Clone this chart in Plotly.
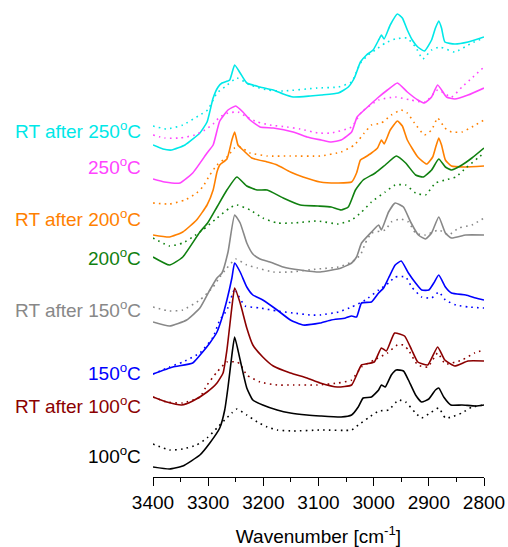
import plotly.graph_objects as go

# ---------------- data (arbitrary absorbance units, stacked) ----------------
labels = ["RT after 250<sup>o</sup>C", "250<sup>o</sup>C", "RT after 200<sup>o</sup>C", "200<sup>o</sup>C",
          "RT after 150<sup>o</sup>C", "150<sup>o</sup>C", "RT after 100<sup>o</sup>C", "100<sup>o</sup>C"]

rt250_wn = [3400, 3382, 3366, 3342, 3315, 3302, 3291, 3282, 3275, 3261, 3252, 3242, 3230, 3206, 3182, 3164, 3146, 3115, 3095, 3064, 3046, 3035, 3024, 3013, 3001, 2990, 2986, 2981, 2970, 2957, 2948, 2939, 2930, 2920, 2908, 2895, 2888, 2882, 2877, 2871, 2853, 2829, 2800]
rt250_a = [3.32, 3.28, 3.27, 3.32, 3.44, 3.55, 3.79, 3.90, 3.94, 3.97, 4.12, 4.04, 3.94, 3.90, 3.87, 3.83, 3.80, 3.81, 3.82, 3.84, 3.90, 3.99, 4.15, 4.22, 4.27, 4.38, 4.42, 4.38, 4.52, 4.63, 4.59, 4.47, 4.37, 4.30, 4.26, 4.37, 4.49, 4.56, 4.49, 4.35, 4.33, 4.35, 4.40]
rt250d_wn = [3400, 3375, 3346, 3315, 3301, 3284, 3270, 3248, 3224, 3193, 3164, 3102, 3064, 3040, 3024, 3010, 2997, 2979, 2961, 2940, 2924, 2911, 2895, 2880, 2853, 2822, 2800]
rt250d_a = [3.51, 3.48, 3.52, 3.62, 3.67, 3.84, 3.90, 3.99, 3.92, 3.87, 3.86, 3.89, 3.90, 3.95, 4.14, 4.22, 4.27, 4.34, 4.38, 4.39, 4.30, 4.18, 4.27, 4.30, 4.25, 4.34, 4.39]

t250_wn = [3400, 3379, 3351, 3328, 3302, 3291, 3279, 3264, 3250, 3237, 3224, 3206, 3182, 3146, 3121, 3095, 3077, 3059, 3040, 3030, 3011, 2993, 2975, 2957, 2939, 2920, 2908, 2895, 2884, 2868, 2853, 2829, 2800]
t250_a = [2.98, 2.95, 2.94, 3.04, 3.24, 3.32, 3.56, 3.67, 3.71, 3.65, 3.57, 3.50, 3.49, 3.45, 3.40, 3.37, 3.35, 3.37, 3.45, 3.60, 3.70, 3.79, 3.87, 3.94, 3.85, 3.77, 3.74, 3.80, 3.92, 3.80, 3.78, 3.82, 3.89]
t250d_wn = [3400, 3379, 3351, 3324, 3306, 3291, 3279, 3264, 3246, 3230, 3211, 3188, 3157, 3133, 3101, 3077, 3040, 3022, 2991, 2961, 2933, 2906, 2884, 2859, 2840, 2822, 2800]
t250d_a = [3.42, 3.39, 3.39, 3.42, 3.47, 3.53, 3.60, 3.64, 3.65, 3.60, 3.55, 3.52, 3.50, 3.48, 3.44, 3.44, 3.50, 3.65, 3.77, 3.80, 3.77, 3.75, 3.87, 3.80, 3.90, 3.99, 4.10]

rt200_wn = [3400, 3370, 3346, 3321, 3302, 3291, 3284, 3279, 3266, 3257, 3252, 3246, 3237, 3221, 3193, 3175, 3151, 3128, 3097, 3064, 3040, 3031, 3024, 3015, 3004, 2993, 2986, 2981, 2970, 2957, 2948, 2939, 2920, 2904, 2893, 2888, 2882, 2877, 2870, 2859, 2835, 2800]
rt200_a = [2.42, 2.40, 2.45, 2.57, 2.72, 2.87, 3.05, 3.12, 3.18, 3.37, 3.45, 3.32, 3.27, 3.19, 3.15, 3.12, 3.05, 3.00, 2.95, 2.94, 2.95, 3.04, 3.17, 3.20, 3.24, 3.29, 3.37, 3.33, 3.47, 3.56, 3.51, 3.37, 3.20, 3.13, 3.20, 3.29, 3.39, 3.32, 3.17, 3.11, 3.10, 3.11]
rt200d_wn = [3400, 3370, 3342, 3321, 3310, 3297, 3284, 3266, 3252, 3242, 3224, 3193, 3151, 3097, 3059, 3035, 3017, 3004, 2986, 2968, 2950, 2939, 2926, 2908, 2895, 2884, 2871, 2859, 2840, 2822, 2800]
rt200d_a = [2.74, 2.73, 2.77, 2.84, 2.90, 3.02, 3.12, 3.20, 3.29, 3.30, 3.24, 3.21, 3.21, 3.21, 3.25, 3.32, 3.44, 3.52, 3.54, 3.62, 3.67, 3.64, 3.54, 3.42, 3.47, 3.59, 3.49, 3.45, 3.45, 3.50, 3.57]

t200_wn = [3400, 3370, 3346, 3315, 3301, 3284, 3266, 3248, 3230, 3211, 3193, 3164, 3133, 3101, 3077, 3059, 3046, 3033, 3019, 2997, 2979, 2959, 2942, 2924, 2910, 2895, 2882, 2870, 2859, 2840, 2822, 2800]
t200_a = [2.20, 2.12, 2.20, 2.45, 2.54, 2.70, 2.87, 3.00, 2.91, 2.87, 2.87, 2.79, 2.72, 2.71, 2.70, 2.67, 2.70, 2.87, 2.97, 3.04, 3.12, 3.21, 3.14, 3.02, 3.00, 3.07, 3.18, 3.10, 3.07, 3.12, 3.19, 3.29]
t200d_wn = [3400, 3370, 3346, 3328, 3310, 3284, 3261, 3248, 3224, 3201, 3175, 3146, 3101, 3064, 3040, 3022, 3004, 2979, 2961, 2942, 2924, 2906, 2888, 2870, 2851, 2833, 2809, 2800]
t200d_a = [2.39, 2.31, 2.34, 2.40, 2.47, 2.59, 2.69, 2.72, 2.67, 2.59, 2.54, 2.54, 2.56, 2.53, 2.57, 2.65, 2.75, 2.85, 2.92, 2.92, 2.84, 2.82, 2.94, 2.97, 3.00, 3.09, 3.20, 3.24]

rt150_wn = [3400, 3370, 3339, 3315, 3297, 3284, 3275, 3264, 3252, 3242, 3230, 3219, 3206, 3188, 3164, 3133, 3097, 3059, 3040, 3031, 3022, 3004, 2991, 2986, 2973, 2961, 2946, 2933, 2919, 2906, 2895, 2882, 2870, 2859, 2833, 2800]
rt150_a = [1.55, 1.51, 1.57, 1.69, 1.87, 1.99, 2.04, 2.25, 2.62, 2.54, 2.34, 2.23, 2.18, 2.15, 2.10, 2.07, 2.05, 2.09, 2.14, 2.20, 2.34, 2.45, 2.52, 2.47, 2.65, 2.74, 2.70, 2.55, 2.42, 2.38, 2.44, 2.60, 2.44, 2.39, 2.42, 2.42]
rt150d_wn = [3400, 3370, 3346, 3315, 3291, 3279, 3266, 3250, 3230, 3211, 3182, 3151, 3102, 3064, 3040, 3024, 3015, 3004, 2979, 2968, 2951, 2937, 2924, 2906, 2882, 2864, 2846, 2822, 2800]
rt150d_a = [1.70, 1.66, 1.67, 1.77, 1.90, 2.00, 2.09, 2.18, 2.12, 2.09, 2.05, 2.05, 2.08, 2.10, 2.15, 2.22, 2.34, 2.44, 2.47, 2.55, 2.58, 2.55, 2.44, 2.42, 2.47, 2.42, 2.49, 2.52, 2.59]

t150_wn = [3400, 3364, 3328, 3310, 3297, 3284, 3275, 3266, 3257, 3252, 3242, 3230, 3219, 3201, 3175, 3151, 3128, 3097, 3077, 3051, 3040, 3031, 3022, 3004, 2991, 2982, 2973, 2961, 2950, 2937, 2924, 2913, 2900, 2891, 2882, 2870, 2859, 2833, 2815, 2800]
t150_a = [1.03, 1.10, 1.14, 1.25, 1.34, 1.45, 1.59, 1.77, 1.99, 2.14, 2.05, 1.90, 1.82, 1.77, 1.67, 1.57, 1.52, 1.54, 1.57, 1.59, 1.61, 1.60, 1.74, 1.75, 1.84, 1.89, 1.99, 2.12, 2.16, 2.04, 1.94, 1.87, 1.87, 1.94, 2.02, 1.90, 1.84, 1.82, 1.79, 1.77]
t150d_wn = [3400, 3370, 3346, 3315, 3291, 3279, 3266, 3252, 3246, 3233, 3206, 3175, 3146, 3115, 3097, 3064, 3040, 3015, 2991, 2973, 2961, 2942, 2931, 2913, 2895, 2882, 2870, 2851, 2828, 2800]
t150d_a = [1.03, 1.10, 1.15, 1.24, 1.40, 1.57, 1.67, 1.88, 1.82, 1.71, 1.69, 1.66, 1.64, 1.62, 1.62, 1.65, 1.70, 1.77, 1.87, 1.94, 2.00, 2.00, 1.90, 1.80, 1.79, 1.85, 1.77, 1.72, 1.70, 1.69]

rt100_wn = [3400, 3375, 3348, 3328, 3302, 3284, 3273, 3266, 3257, 3252, 3242, 3230, 3219, 3201, 3182, 3151, 3121, 3097, 3066, 3040, 3022, 2999, 2986, 2977, 2962, 2944, 2931, 2920, 2902, 2884, 2871, 2853, 2829, 2800]
rt100_a = [0.80, 0.75, 0.72, 0.76, 0.85, 0.94, 1.04, 1.27, 1.70, 1.89, 1.74, 1.49, 1.32, 1.20, 1.11, 1.04, 0.99, 0.94, 0.90, 0.92, 1.12, 1.15, 1.29, 1.26, 1.44, 1.41, 1.27, 1.15, 1.12, 1.30, 1.17, 1.11, 1.16, 1.16]
rt100d_wn = [3400, 3375, 3346, 3315, 3302, 3284, 3266, 3248, 3242, 3230, 3206, 3175, 3146, 3102, 3064, 3040, 3022, 2999, 2975, 2957, 2946, 2937, 2920, 2902, 2884, 2870, 2840, 2817, 2800]
rt100d_a = [0.80, 0.75, 0.74, 0.80, 0.92, 1.05, 1.15, 1.15, 1.13, 1.02, 0.95, 0.92, 0.92, 0.92, 0.94, 0.97, 1.10, 1.17, 1.24, 1.32, 1.32, 1.27, 1.12, 1.10, 1.24, 1.13, 1.17, 1.24, 1.27]

t100_wn = [3400, 3370, 3346, 3315, 3297, 3279, 3270, 3264, 3257, 3252, 3242, 3230, 3219, 3201, 3175, 3151, 3121, 3097, 3059, 3040, 3028, 3019, 3004, 2991, 2986, 2979, 2968, 2959, 2946, 2937, 2924, 2913, 2900, 2888, 2882, 2873, 2860, 2840, 2815, 2800]
t100_a = [0.10, 0.08, 0.11, 0.22, 0.34, 0.49, 0.67, 0.90, 1.22, 1.40, 1.17, 0.89, 0.77, 0.72, 0.67, 0.64, 0.62, 0.61, 0.60, 0.62, 0.70, 0.79, 0.80, 0.87, 0.92, 0.90, 1.02, 1.07, 1.06, 0.97, 0.82, 0.75, 0.78, 0.87, 0.89, 0.80, 0.72, 0.72, 0.71, 0.72]
t100d_wn = [3400, 3370, 3346, 3321, 3302, 3284, 3270, 3257, 3248, 3230, 3211, 3193, 3175, 3146, 3095, 3040, 3028, 3010, 2991, 2973, 2955, 2942, 2924, 2913, 2895, 2882, 2870, 2859, 2840, 2822, 2800]
t100d_a = [0.33, 0.27, 0.28, 0.32, 0.39, 0.49, 0.57, 0.64, 0.68, 0.62, 0.55, 0.50, 0.47, 0.46, 0.47, 0.47, 0.52, 0.59, 0.66, 0.67, 0.77, 0.75, 0.64, 0.59, 0.65, 0.69, 0.59, 0.60, 0.64, 0.70, 0.72]

tick_vals = [3400, 3300, 3200, 3100, 3000, 2900, 2800]

# ---------------- styling ----------------
colors = ["#00E8E8", "#FF44FF", "#FF8000", "#108010", "#888888", "#0000FF", "#8B0000", "#000000"]
label_y = [3.47, 3.11, 2.59, 2.20, 1.68, 1.05, 0.72, 0.22]

series = [
    (rt250_wn, rt250_a, rt250d_wn, rt250d_a),
    (t250_wn, t250_a, t250d_wn, t250d_a),
    (rt200_wn, rt200_a, rt200d_wn, rt200d_a),
    (t200_wn, t200_a, t200d_wn, t200d_a),
    (rt150_wn, rt150_a, rt150d_wn, rt150d_a),
    (t150_wn, t150_a, t150d_wn, t150d_a),
    (rt100_wn, rt100_a, rt100d_wn, rt100d_a),
    (t100_wn, t100_a, t100d_wn, t100d_a),
]

FONT = "Liberation Sans, Arial, sans-serif"
fig = go.Figure()
for (wn, a, wnd, ad), col, lab in zip(series, colors, labels):
    fig.add_trace(go.Scatter(x=wnd, y=ad, mode="lines", showlegend=False, hoverinfo="skip",
                             line=dict(color=col, width=1.6, dash="1.6px,4.2px", shape="spline", smoothing=0.45)))
    fig.add_trace(go.Scatter(x=wn, y=a, mode="lines", showlegend=False, name=lab,
                             line=dict(color=col, width=1.6, shape="spline", smoothing=0.45)))

for lab, col, yy in zip(labels, colors, label_y):
    fig.add_annotation(x=0, xref="paper", y=yy, yref="y", text=lab, showarrow=False,
                       xanchor="right", yanchor="middle", xshift=-10,
                       font=dict(family=FONT, size=19, color=col))

fig.update_layout(
    width=508, height=547,
    margin=dict(l=153, r=24, t=0, b=70),
    paper_bgcolor="white", plot_bgcolor="white",
    font=dict(family=FONT, size=19, color="black"),
)
fig.update_xaxes(range=[3400, 2800], autorange=False, tickvals=tick_vals,
                 showline=True, linecolor="black", linewidth=1.2, mirror=False,
                 ticks="outside", ticklen=8, tickwidth=1.2, tickcolor="black",
                 minor=dict(ticks="outside", ticklen=4, tickwidth=1.2, dtick=50, tickcolor="black", showgrid=False),
                 showgrid=False, zeroline=False,
                 tickfont=dict(family=FONT, size=19, color="black"),
                 title=dict(text="Wavenumber [cm<sup>-1</sup>]", standoff=17,
                            font=dict(family=FONT, size=19, color="black")))
fig.update_yaxes(range=[0, 4.77], autorange=False, visible=False, showgrid=False, zeroline=False)

fig.write_html("out.html")
